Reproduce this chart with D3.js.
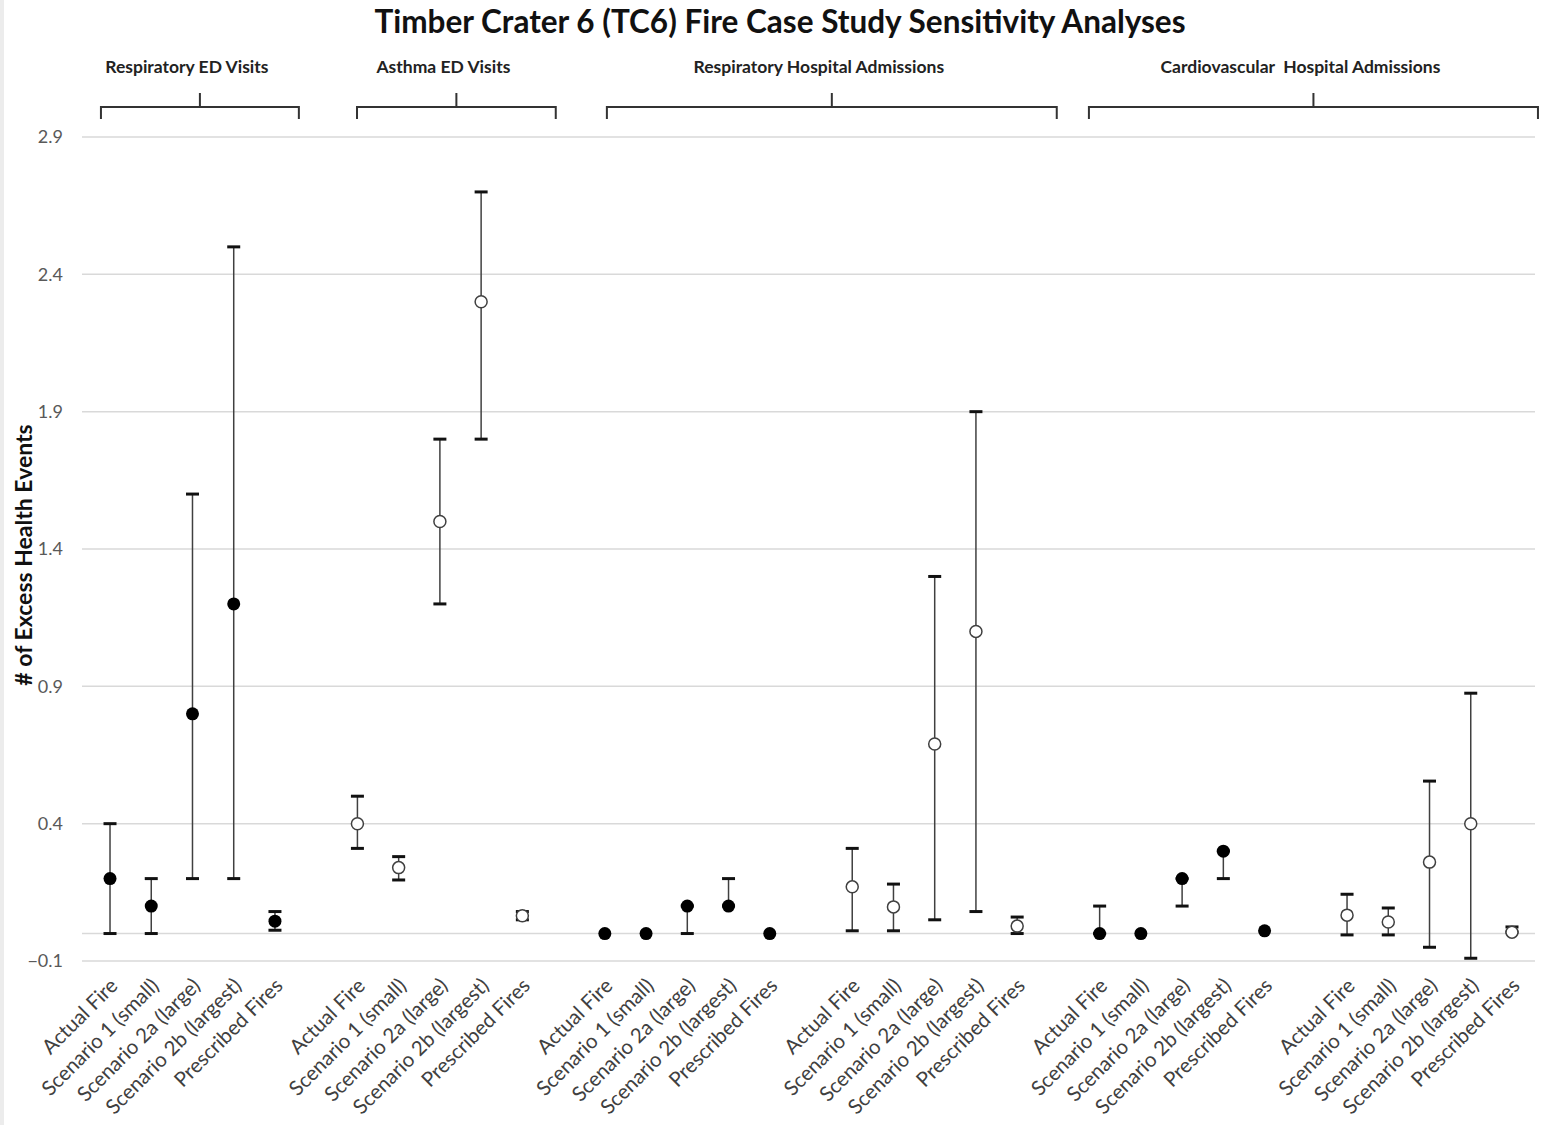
<!DOCTYPE html>
<html>
<head>
<meta charset="utf-8">
<script src="https://cdn.jsdelivr.net/npm/d3@7"></script>
<style>
  body { margin: 0; background: #fff; }
  svg { display: block; font-family: Lato, "Open Sans", sans-serif; }
</style>
</head>
<body>
<svg id="chart" width="1542" height="1125"></svg>
<script>
// ---- data ----
const title = "Timber Crater 6 (TC6) Fire Case Study Sensitivity Analyses"
const yLabel = "# of Excess Health Events"
const scenarios = ["Actual Fire", "Scenario 1 (small)", "Scenario 2a (large)", "Scenario 2b (largest)", "Prescribed Fires"]
const yTicks = [-0.1, 0.4, 0.9, 1.4, 1.9, 2.4, 2.9]

// one entry per block of five points, left to right
const blockFilled = [true, false, true, false, true, false]
const blockMean = [
    [0.20, 0.10, 0.80, 1.20, 0.045],
    [0.40, 0.24, 1.50, 2.30, 0.065],
    [0.00, 0.00, 0.10, 0.10, 0.00],
    [0.17, 0.097, 0.69, 1.10, 0.027],
    [0.00, 0.00, 0.20, 0.30, 0.01],
    [0.067, 0.042, 0.26, 0.40, 0.005]
]
const blockLower = [
    [0.00, 0.00, 0.20, 0.20, 0.012],
    [0.31, 0.195, 1.20, 1.80, 0.05],
    [0.00, 0.00, 0.00, 0.10, 0.00],
    [0.01, 0.01, 0.05, 0.08, 0.00],
    [0.00, 0.00, 0.10, 0.20, 0.01],
    [-0.005, -0.005, -0.05, -0.09, 0.005]
]
const blockUpper = [
    [0.40, 0.20, 1.60, 2.50, 0.08],
    [0.50, 0.28, 1.80, 2.70, 0.08],
    [0.00, 0.00, 0.10, 0.20, 0.00],
    [0.31, 0.18, 1.30, 1.90, 0.06],
    [0.10, 0.00, 0.20, 0.30, 0.01],
    [0.143, 0.093, 0.555, 0.875, 0.024]
]

// outcome labels above the chart, and which blocks each bracket covers
const outcomes = ["Respiratory ED Visits", "Asthma ED Visits", "Respiratory Hospital Admissions", "Cardiovascular  Hospital Admissions"]
const outcomeBlocks = [[0, 0], [1, 1], [2, 3], [4, 5]]

// ---- layout ----
const svg = d3.select("#chart")
const slotsPerBlock = 6   // five scenarios + one empty slot
const nSlots = blockMean.length * slotsPerBlock - 1
const margin = { left: 89.4, right: 1532.6, top: 137, bottom: 961 }
// hand-drawn brackets overshoot by different amounts (in slot units)
const bracketPad = [[-0.22, 0.58], [-0.01, 0.81], [0.05, 0.96], [-0.26, 0.63]]

const x = d3.scaleBand()
    .domain(d3.range(nSlots))
    .range([margin.left, margin.right])
    .padding(0)
const cx = i => x(i) + x.bandwidth() / 2
const slotPos = s => margin.left + (s + 0.5) * x.bandwidth()

const y = d3.scaleLinear()
    .domain([-0.1, 2.9])
    .range([margin.bottom, margin.top])

// faint strip on the left edge like the source image
svg.append("rect").attr("x", 0).attr("y", 0).attr("width", 4).attr("height", 1125).attr("fill", "#ececec")

// gridlines + zero line
const grid = svg.append("g")
grid.selectAll("line")
    .data(yTicks.concat([0]))
    .join("line")
    .attr("x1", 82).attr("x2", 1535)
    .attr("y1", d => y(d)).attr("y2", d => y(d))
    .attr("stroke", "#d9d9d9")
    .attr("stroke-width", 1.5)

// y axis labels
const yAxis = svg.append("g")
    .attr("transform", `translate(${69},0)`)
    .call(d3.axisLeft(y).tickValues(yTicks).tickFormat(d3.format(".1f")).tickSize(0).tickPadding(6))
yAxis.select(".domain").remove()
yAxis.selectAll("text")
    .attr("font-family", "Lato, 'Open Sans', sans-serif")
    .attr("font-size", 18)
    .attr("fill", "#595959")

// y title
svg.append("text")
    .attr("transform", `translate(32,${555}) rotate(-90)`)
    .attr("text-anchor", "middle")
    .attr("font-size", 23)
    .attr("font-weight", "bold")
    .attr("fill", "#111")
    .text(yLabel)

// chart title
svg.append("text")
    .attr("x", 780).attr("y", 33)
    .attr("text-anchor", "middle")
    .attr("font-size", 31.5)
    .attr("font-weight", "bold")
    .attr("fill", "#111")
    .text(title)

// flatten the blocks into points
const points = []
blockMean.forEach((means, b) => {
    means.forEach((m, i) => {
        points.push({
            slot: b * slotsPerBlock + i,
            label: scenarios[i],
            mean: m,
            lo: blockLower[b][i],
            hi: blockUpper[b][i],
            filled: blockFilled[b]
        })
    })
})

// x tick labels, rotated
const xAxis = svg.append("g")
xAxis.selectAll("text")
    .data(points)
    .join("text")
    .attr("transform", d => `translate(${cx(d.slot) + 9},${987}) rotate(-45)`)
    .attr("text-anchor", "end")
    .attr("font-size", 20.5)
    .attr("fill", "#404040")
    .text(d => d.label)

// error bars
const bars = svg.append("g")
bars.selectAll("line.stem")
    .data(points.filter(d => d.hi !== d.lo))
    .join("line")
    .attr("class", "stem")
    .attr("x1", d => cx(d.slot)).attr("x2", d => cx(d.slot))
    .attr("y1", d => y(d.lo)).attr("y2", d => y(d.hi))
    .attr("stroke", "#404040")
    .attr("stroke-width", 1.5)

const capW = 6.5
const caps = points.filter(d => d.hi !== d.lo)
    .flatMap(d => [{ slot: d.slot, v: d.lo }, { slot: d.slot, v: d.hi }])
bars.selectAll("line.cap")
    .data(caps)
    .join("line")
    .attr("class", "cap")
    .attr("x1", d => cx(d.slot) - capW).attr("x2", d => cx(d.slot) + capW)
    .attr("y1", d => y(d.v)).attr("y2", d => y(d.v))
    .attr("stroke", "#111")
    .attr("stroke-width", 3)

// markers
svg.append("g").selectAll("circle")
    .data(points)
    .join("circle")
    .attr("cx", d => cx(d.slot))
    .attr("cy", d => y(d.mean))
    .attr("r", d => d.filled ? 6.5 : 6)
    .attr("fill", d => d.filled ? "#000" : "#fff")
    .attr("stroke", d => d.filled ? "#000" : "#404040")
    .attr("stroke-width", d => d.filled ? 0 : 1.5)

// outcome brackets above the plot
const brackets = outcomes.map((name, k) => {
    const [b0, b1] = outcomeBlocks[k]
    const s0 = b0 * slotsPerBlock + bracketPad[k][0]
    const s1 = b1 * slotsPerBlock + 4 + bracketPad[k][1]
    return { name, x0: slotPos(s0), x1: slotPos(s1) }
})
const bg = svg.append("g")
bg.selectAll("path")
    .data(brackets)
    .join("path")
    .attr("d", d => {
        const mid = (d.x0 + d.x1) / 2
        return `M${d.x0},119 V107 H${d.x1} V119 M${mid},107 V93`
    })
    .attr("fill", "none")
    .attr("stroke", "#333")
    .attr("stroke-width", 2)
bg.selectAll("text")
    .data(brackets)
    .join("text")
    .attr("x", d => (d.x0 + d.x1) / 2 - 13)
    .attr("y", 73)
    .attr("text-anchor", "middle")
    .attr("font-size", 17.5)
    .attr("font-weight", "bold")
    .attr("fill", "#222")
    .style("white-space", "pre")
    .text(d => d.name)
</script>
</body>
</html>
